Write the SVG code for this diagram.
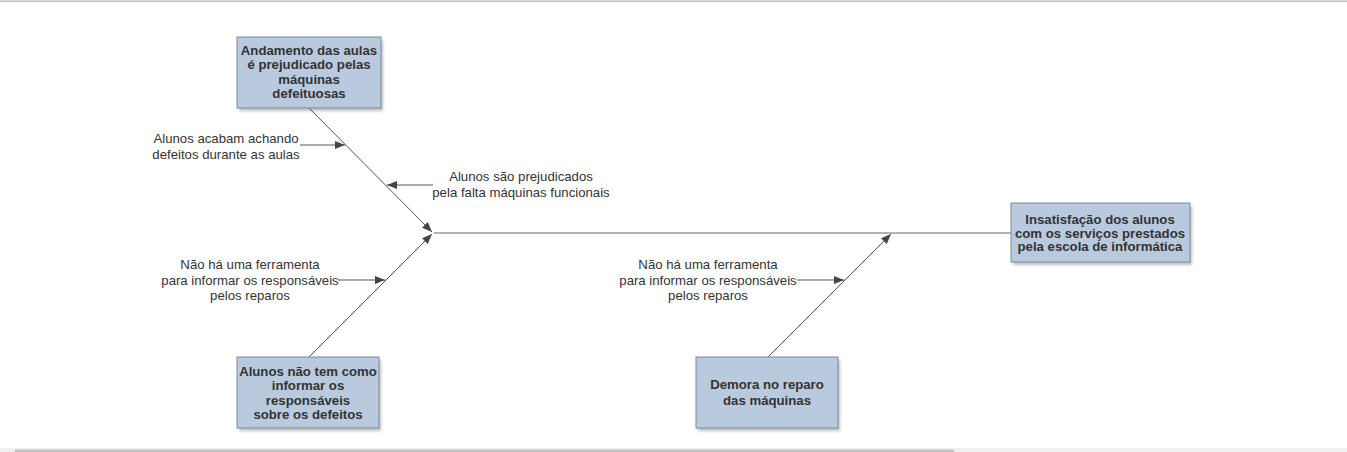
<svg xmlns="http://www.w3.org/2000/svg" width="1347" height="452" viewBox="0 0 1347 452">
<style>
.box{fill:#bacade;stroke:#7a8a9a;stroke-width:1}
.shadow{fill:#000;opacity:0.25}
.bt{font-family:"Liberation Sans",Arial,sans-serif;font-size:13.2px;font-weight:bold;fill:#333;text-anchor:middle}
.lt{font-family:"Liberation Sans",Arial,sans-serif;font-size:13.2px;fill:#333;text-anchor:middle}
.bone{stroke:#555;stroke-width:1;fill:none}
.spine{stroke:#9a9a9a;stroke-width:1.5;fill:none}
</style>
<defs>
<marker id="ah" viewBox="0 0 10 10" refX="10" refY="5" markerWidth="10" markerHeight="10" markerUnits="userSpaceOnUse" orient="auto">
<path d="M0,1 L10,5 L0,9 z" fill="#444"/>
</marker>
<filter id="blur" x="-10%" y="-10%" width="120%" height="130%"><feGaussianBlur stdDeviation="1.5"/></filter>
</defs>
<rect width="1347" height="452" fill="#fff"/>
<rect x="0" y="0.5" width="1347" height="1.5" fill="#bcbcbc"/>
<rect x="0" y="448" width="1347" height="4" fill="#f0f0f0"/>
<rect x="15" y="449.5" width="939" height="2.5" fill="#c0c0c0"/>

<g id="connectors">
<line class="spine" x1="434" y1="233" x2="1011" y2="233"/>
<line class="bone" x1="309" y1="108" x2="432" y2="232" marker-end="url(#ah)"/>
<line class="bone" x1="309" y1="357" x2="432" y2="234" marker-end="url(#ah)"/>
<line class="bone" x1="768" y1="357" x2="891" y2="234" marker-end="url(#ah)"/>
<line class="bone" x1="300" y1="145" x2="345" y2="145" marker-end="url(#ah)"/>
<line class="bone" x1="433" y1="185" x2="387" y2="185" marker-end="url(#ah)"/>
<line class="bone" x1="338" y1="280" x2="385" y2="280" marker-end="url(#ah)"/>
<line class="bone" x1="797" y1="280" x2="844" y2="280" marker-end="url(#ah)"/>
</g>

<g id="lbl1">
<text class="lt" x="226" y="143">Alunos acabam achando</text>
<text class="lt" x="226" y="159">defeitos durante as aulas</text>
</g>
<g id="lbl2">
<text class="lt" x="521" y="181">Alunos são prejudicados</text>
<text class="lt" x="521" y="197">pela falta máquinas funcionais</text>
</g>
<g id="lbl3">
<text class="lt" x="250" y="269">Não há uma ferramenta</text>
<text class="lt" x="250" y="285">para informar os responsáveis</text>
<text class="lt" x="250" y="300">pelos reparos</text>
</g>
<g id="lbl4">
<text class="lt" x="708" y="269">Não há uma ferramenta</text>
<text class="lt" x="708" y="285">para informar os responsáveis</text>
<text class="lt" x="708" y="300">pelos reparos</text>
</g>

<g id="node1">
<rect class="shadow" x="239" y="40" width="144" height="71" filter="url(#blur)"/>
<rect class="box" x="237" y="37" width="144" height="71"/>
<text class="bt" x="309" y="55">Andamento das aulas</text>
<text class="bt" x="309" y="69">é prejudicado pelas</text>
<text class="bt" x="309" y="84">máquinas</text>
<text class="bt" x="309" y="98">defeituosas</text>
</g>

<g id="node2">
<rect class="shadow" x="1013" y="206" width="179" height="59" filter="url(#blur)"/>
<rect class="box" x="1011" y="203" width="179" height="59"/>
<text class="bt" x="1100" y="224">Insatisfação dos alunos</text>
<text class="bt" x="1100" y="238">com os serviços prestados</text>
<text class="bt" x="1100" y="251">pela escola de informática</text>
</g>

<g id="node3">
<rect class="shadow" x="239" y="360" width="142" height="71" filter="url(#blur)"/>
<rect class="box" x="237" y="357" width="142" height="71"/>
<text class="bt" x="308" y="376">Alunos não tem como</text>
<text class="bt" x="308" y="390">informar os</text>
<text class="bt" x="308" y="405">responsáveis</text>
<text class="bt" x="308" y="419">sobre os defeitos</text>
</g>

<g id="node4">
<rect class="shadow" x="698" y="360" width="142" height="71" filter="url(#blur)"/>
<rect class="box" x="696" y="357" width="142" height="71"/>
<text class="bt" x="767" y="389">Demora no reparo</text>
<text class="bt" x="767" y="405">das máquinas</text>
</g>
</svg>
